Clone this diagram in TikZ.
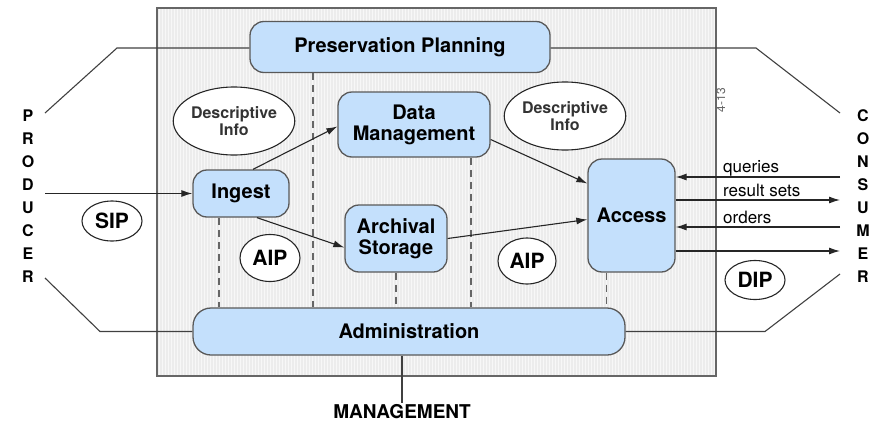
\documentclass[tikz,border=0pt]{standalone}
\usepackage{fontspec}
\setmainfont{TeX Gyre Heros}
\usepackage{xcolor}
\usepackage{tikz}
\usetikzlibrary{arrows.meta,positioning,calc,shapes.geometric}
\definecolor{OaisBlue}{RGB}{196,224,252}
\definecolor{OaisGray}{RGB}{236,236,236}

\begin{document}
\begin{tikzpicture}[x=1pt,y=-1pt,
  func/.style={draw=black!65, line width=1.3pt, fill=OaisBlue, rounded corners=14pt,
    align=center, inner sep=0pt, font=\fontsize{20}{21}\selectfont\bfseries},
  pkg/.style={draw=black!85, line width=1.1pt, ellipse, fill=white, inner sep=0pt,
    align=center, font=\fontsize{21}{22}\selectfont\bfseries},
  info/.style={pkg, text=black!80, font=\fontsize{16}{17}\selectfont\bfseries},
  letter/.style={font=\fontsize{16}{16}\selectfont\bfseries, inner sep=0pt},
  flow/.style={-{Latex[length=11pt,width=7pt]}, line width=1.1pt, black!85},
  link/.style={line width=1.1pt, black!75},
  guide/.style={line width=1.3pt, black!60, dash pattern=on 7pt off 5pt},
  msg/.style={font=\fontsize{17}{17}\selectfont, anchor=base west, inner sep=0pt}]
\useasboundingbox (0,0) rectangle (886,434);
% archive frame with fine stripes
\fill[OaisGray] (157,8) rectangle (716,376);
\foreach \x in {159,162,...,714}
  \draw[white, line width=0.5pt, opacity=0.6] (\x,9) -- (\x,375);
\draw[black!60, line width=1.5pt] (157,8) rectangle (716,376);
\node[rotate=90, font=\fontsize{12}{12}\selectfont, text=black!60, inner sep=0pt] (tag) at (721,100) {4-13};

% functional entities
\node[func, minimum width=300pt, minimum height=51pt] (pp) at (400,47) {Preservation Planning};
\node[func, minimum width=152pt, minimum height=65pt] (dm) at (414,124.5) {Data\\Management};
\node[func, minimum width=96pt, minimum height=47pt] (ingest) at (241,193.5) {Ingest};
\node[func, minimum width=102pt, minimum height=67pt] (as) at (396,238.5) {Archival\\Storage};
\node[func, minimum width=87pt, minimum height=113pt] (access) at (631.5,215.5) {Access};
\node[func, minimum width=432pt, minimum height=47pt, rounded corners=18pt] (admin) at (409,331.5) {Administration};

% information packages
\node[info, minimum width=118pt, minimum height=68pt] (di1) at (234,121) {Descriptive\\Info};
\node[info, minimum width=121pt, minimum height=68pt] (di2) at (565,116) {Descriptive\\Info};
\node[pkg, minimum width=60pt, minimum height=40pt] (sip) at (112,221) {SIP};
\node[pkg, minimum width=60pt, minimum height=47pt] (aip1) at (270,258) {AIP};
\node[pkg, minimum width=58pt, minimum height=46pt] (aip2) at (527,261) {AIP};
\node[pkg, minimum width=60pt, minimum height=39pt] (dip) at (755,280) {DIP};

% outside roles
\foreach \l [count=\i from 0] in {P,R,O,D,U,C,E,R}
  \node[letter] (prod\i) at (28,{116+23*\i}) {\l};
\foreach \l [count=\i from 0] in {C,O,N,S,U,M,E,R}
  \node[letter] (cons\i) at (863,{116+23*\i}) {\l};
\node[font=\fontsize{19}{19}\selectfont\bfseries, inner sep=0pt] (mgmt) at (402,412) {MANAGEMENT};

% dashed links to administration
\draw[guide] ([xshift=-87pt]pp.south) -- ([xshift=-87pt]pp.south |- admin.north);
\draw[guide] ([xshift=-22pt]ingest.south) -- ([xshift=-22pt]ingest.south |- admin.north);
\draw[guide] (as.south) -- (as.south |- admin.north);
\draw[guide] ([xshift=57pt]dm.south) -- ([xshift=57pt]dm.south |- admin.north);
\draw[guide] ([xshift=-25pt]access.south) -- ([xshift=-25pt]access.south |- admin.north);

% internal flows
\draw[flow] ([xshift=12pt]ingest.north) -- ([yshift=-2pt]dm.west);
\draw[flow] ([xshift=16pt]ingest.south) -- ([yshift=-9pt]as.west);
\draw[flow] ([yshift=-15pt]dm.east) -- ([yshift=32pt]access.west);
\draw[flow] (as.east) -- ([yshift=-4pt]access.west);

% producer side
\coordinate (pTop) at (45,113);
\coordinate (pTopK) at (117,48);
\coordinate (pIn) at (45,193.5);
\coordinate (pBot) at (45,278);
\coordinate (pBotK) at (100,331.5);
\draw[link] (pTop) -- (pTopK) -- (pp.west |- pTopK);
\draw[flow] (pIn) -- (ingest.west);
\draw[link] (pBot) -- (pBotK) -- (admin.west);

% consumer side
\coordinate (cTopK) at (756,48);
\coordinate (cTop) at (840,113);
\coordinate (cBotK) at (765,331.5);
\coordinate (cBot) at (840,274);
\draw[link] (pp.east |- cTopK) -- (cTopK) -- (cTop);
\draw[link] (admin.east) -- (cBotK) -- (cBot);
\coordinate (cq) at (840,177);
\coordinate (cr) at (840,200);
\coordinate (co) at (840,227);
\coordinate (cd) at (840,251);
\draw[flow] (cq) -- (cq -| access.east);
\draw[flow] (cr -| access.east) -- (cr);
\draw[flow] (co) -- (co -| access.east);
\draw[flow] (cd -| access.east) -- (cd);
\node[msg] (qlab) at (723,172) {queries};
\node[msg] (rlab) at (723,196) {result sets};
\node[msg] (olab) at (723,223) {orders};

% management
\draw[link] (admin.south -| mgmt.north) -- ([yshift=2pt]mgmt.north);
\end{tikzpicture}
\end{document}
